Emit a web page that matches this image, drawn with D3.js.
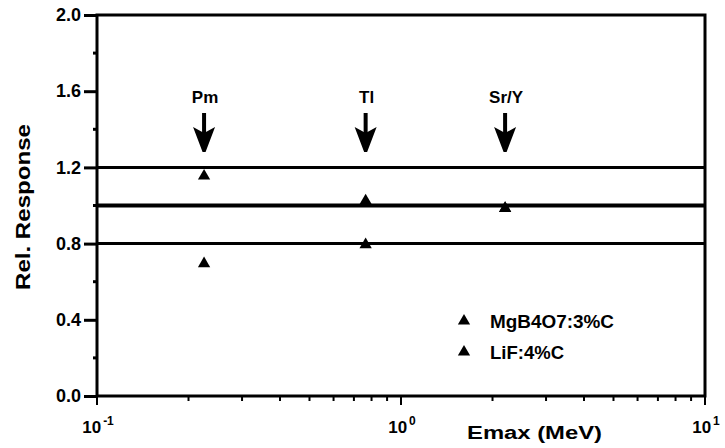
<!DOCTYPE html>
<html>
<head>
<meta charset="utf-8">
<script src="https://cdn.jsdelivr.net/npm/d3@7"></script>
<style>
  body { margin: 0; background: #fff; }
  text { font-family: "Liberation Sans", Arial, sans-serif; font-weight: bold; fill: #000; }
</style>
</head>
<body>
<svg id="chart" width="725" height="448"></svg>
<script>
// Data
const sources = ['Pm', 'Tl', 'Sr/Y']
const sourceEmax = [0.225, 0.765, 2.2]
const mgbValues = [1.16, 1.03, 0.99]
const lifValues = [0.70, 0.80, 0.99]
const refLines = [0.8, 1.0, 1.2]
const yTicks = [0, 0.4, 0.8, 1.2, 1.6, 2.0]
const yMinorTicks = [0.2, 0.6, 1.0, 1.4, 1.8]
const xMajorTicks = [0.1, 1, 10]
const legendLabels = ['MgB4O7:3%C', 'LiF:4%C']

const width = 725, height = 448
const margin = {left: 97, right: 20, top: 15, bottom: 52}

const svg = d3.select('#chart')

// Scales
const xScale = d3.scaleLog()
    .domain([0.1, 10])
    .range([margin.left, width - margin.right])
const yScale = d3.scaleLinear()
    .domain([0, 2])
    .range([height - margin.bottom, margin.top])

const x0 = xScale.range()[0], x1 = xScale.range()[1]
const y0 = yScale.range()[0], y1 = yScale.range()[1]

// Reference lines
svg.selectAll('.ref')
    .data(refLines)
    .enter()
    .append('line')
    .attr('x1', x0).attr('x2', x1)
    .attr('y1', d => yScale(d)).attr('y2', d => yScale(d))
    .attr('stroke', '#000')
    .attr('stroke-width', d => d === 1.0 ? 4 : 3)

// Y axis
const yAxis = d3.axisLeft(yScale)
    .tickValues(yTicks)
    .tickFormat(d3.format('.1f'))
    .tickSize(13)
    .tickPadding(3)
const gy = svg.append('g')
    .attr('transform', 'translate(' + x0 + ',0)')
    .call(yAxis)
gy.select('.domain').remove()
gy.selectAll('.tick line').attr('stroke-width', 3)
gy.selectAll('.tick text')
    .style('font-size', '18px')
    .style('font-family', '"Liberation Sans", Arial, sans-serif')
    .style('font-weight', 'bold')

svg.selectAll('.yminor')
    .data(yMinorTicks)
    .enter()
    .append('line')
    .attr('x1', x0).attr('x2', x0 - 4)
    .attr('y1', d => yScale(d)).attr('y2', d => yScale(d))
    .attr('stroke', '#000').attr('stroke-width', 3)

// X axis minor ticks
const xMinor = []
for (const dec of [0.1, 1]) {
    for (let k = 2; k <= 9; k++) xMinor.push(dec * k)
}
svg.selectAll('.xminor')
    .data(xMinor)
    .enter()
    .append('line')
    .attr('x1', d => xScale(d)).attr('x2', d => xScale(d))
    .attr('y1', y0).attr('y2', y0 + 5)
    .attr('stroke', '#000').attr('stroke-width', 2)

svg.selectAll('.xmajor')
    .data(xMajorTicks)
    .enter()
    .append('line')
    .attr('x1', d => xScale(d)).attr('x2', d => xScale(d))
    .attr('y1', y0).attr('y2', y0 + 9)
    .attr('stroke', '#000').attr('stroke-width', 2)

const xLabels = svg.selectAll('.xlab')
    .data(xMajorTicks)
    .enter()
    .append('text')
    .attr('x', d => xScale(d) + 1)
    .attr('y', y0 + 37)
    .attr('text-anchor', 'middle')
    .style('font-size', '17px')
xLabels.append('tspan').text('10')
xLabels.append('tspan')
    .attr('dx', 2)
    .attr('dy', -8)
    .style('font-size', '12px')
    .text(d => Math.round(Math.log10(d)))

// Frame
svg.append('rect')
    .attr('x', x0).attr('y', y1)
    .attr('width', x1 - x0).attr('height', y0 - y1)
    .attr('fill', 'none')
    .attr('stroke', '#000')
    .attr('stroke-width', 3)

// Axis titles
svg.append('text')
    .attr('x', 467).attr('y', 439)
    .attr('textLength', 135)
    .attr('lengthAdjust', 'spacingAndGlyphs')
    .style('font-size', '18px')
    .text('Emax (MeV)')

svg.append('text')
    .attr('transform', 'translate(30,207) rotate(-90)')
    .attr('x', -83)
    .attr('textLength', 166)
    .attr('lengthAdjust', 'spacingAndGlyphs')
    .style('font-size', '20px')
    .text('Rel. Response')

// Source labels and arrows
svg.selectAll('.srclab')
    .data(sources)
    .enter()
    .append('text')
    .attr('x', (_, i) => xScale(sourceEmax[i]) + 1)
    .attr('y', 103)
    .attr('text-anchor', 'middle')
    .style('font-size', '17px')
    .text(d => d)

const arrow = svg.selectAll('.arrow')
    .data(sourceEmax)
    .enter()
    .append('g')
    .attr('transform', d => 'translate(' + xScale(d) + ',0)')
arrow.append('line')
    .attr('x1', 0).attr('x2', 0)
    .attr('y1', 113).attr('y2', 134)
    .attr('stroke', '#000').attr('stroke-width', 4)
arrow.append('path')
    .attr('d', 'M-11,127 L0,133 L11,127 L1.5,152 L-1.5,152 Z')
    .attr('fill', '#000')

// Markers
const tri = d3.symbol().type(d3.symbolTriangle).size(65)
const points = []
sourceEmax.forEach((e, i) => {
    points.push({x: e, y: mgbValues[i]})
    points.push({x: e, y: lifValues[i]})
})
svg.selectAll('.pt')
    .data(points)
    .enter()
    .append('path')
    .attr('d', tri)
    .attr('transform', d => 'translate(' + xScale(d.x) + ',' + (yScale(d.y) + 1) + ')')
    .attr('fill', '#000')

// Legend
const legendWidths = [124, 74]
const legend = svg.selectAll('.leg')
    .data(legendLabels)
    .enter()
    .append('g')
    .attr('transform', (_, i) => 'translate(464,' + (321 + i * 31) + ')')
legend.append('path')
    .attr('d', tri)
    .attr('fill', '#000')
legend.append('text')
    .attr('x', 26).attr('y', 7)
    .attr('textLength', (_, i) => legendWidths[i])
    .attr('lengthAdjust', 'spacingAndGlyphs')
    .style('font-size', '18px')
    .text(d => d)
</script>
</body>
</html>
